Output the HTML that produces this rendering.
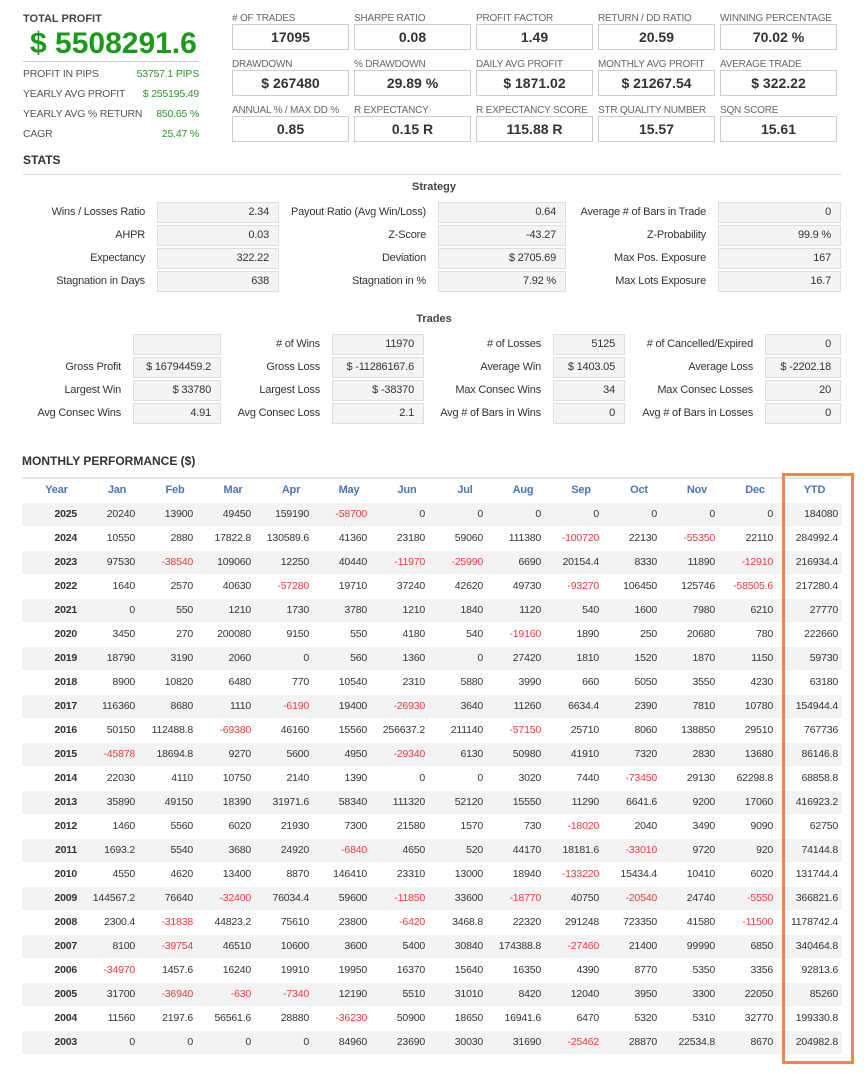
<!DOCTYPE html>
<html><head><meta charset="utf-8"><style>
*{margin:0;padding:0;box-sizing:border-box}
body{width:868px;height:1074px;background:#fff;font-family:"Liberation Sans",Arial,sans-serif;position:relative;overflow:hidden;color:#333}
.a{position:absolute;white-space:nowrap}
.lbl{font-size:10.5px;color:#555;letter-spacing:-0.2px}
.gv{font-size:10.5px;color:#2a9a2a;text-align:right;letter-spacing:-0.2px}
.kl{position:absolute;font-size:10px;color:#666;white-space:nowrap;letter-spacing:-0.2px}
.kb{position:absolute;width:117px;height:26px;border:1px solid #ccc;font-size:14px;font-weight:bold;color:#333;text-align:center;line-height:24px}
.sl{position:absolute;font-size:11px;color:#333;text-align:right;white-space:nowrap;line-height:20px;letter-spacing:-0.2px}
.sb{position:absolute;height:21px;background:#f4f4f4;border:1px solid #ddd;font-size:11px;color:#333;text-align:right;padding-right:9px;line-height:19px;white-space:nowrap;letter-spacing:-0.2px}
table{position:absolute;left:22px;top:477px;border-collapse:collapse;font-size:10.5px;table-layout:fixed;width:820px;letter-spacing:-0.2px}
td,th{height:24px;text-align:right;padding-right:8px;white-space:nowrap;border-bottom:1px solid #fff}
th{color:#4a76b0;font-weight:bold;text-align:center;padding:0 0 0 6px;border-top:2px solid #e4e4e4;font-size:11px}
tr:nth-child(even) td{background:#f3f3f3}
td:first-child{font-weight:bold}
td:last-child{padding-right:4px}
.n{color:#f03a3a}
</style></head><body>
<div class="a" style="left:23px;top:13px;font-size:11px;font-weight:bold;color:#444">TOTAL PROFIT</div>
<div class="a" style="left:30px;top:27px;font-size:30px;font-weight:bold;color:#1a9a1a">$ 5508291.6</div>
<div class="a" style="left:23px;top:61px;width:176px;border-top:1px solid #ccc"></div>
<div class="a lbl" style="left:23px;top:68px">PROFIT IN PIPS</div><div class="a gv" style="right:669px;top:68px">53757.1 PIPS</div>
<div class="a lbl" style="left:23px;top:88px">YEARLY AVG PROFIT</div><div class="a gv" style="right:669px;top:88px">$ 255195.49</div>
<div class="a lbl" style="left:23px;top:108px">YEARLY AVG % RETURN</div><div class="a gv" style="right:669px;top:108px">850.65 %</div>
<div class="a lbl" style="left:23px;top:128px">CAGR</div><div class="a gv" style="right:669px;top:128px">25.47 %</div>

<div class="kl" style="left:232px;top:13px"># OF TRADES</div><div class="kb" style="left:232px;top:24px">17095</div>
<div class="kl" style="left:354px;top:13px">SHARPE RATIO</div><div class="kb" style="left:354px;top:24px">0.08</div>
<div class="kl" style="left:476px;top:13px">PROFIT FACTOR</div><div class="kb" style="left:476px;top:24px">1.49</div>
<div class="kl" style="left:598px;top:13px">RETURN / DD RATIO</div><div class="kb" style="left:598px;top:24px">20.59</div>
<div class="kl" style="left:720px;top:13px">WINNING PERCENTAGE</div><div class="kb" style="left:720px;top:24px">70.02 %</div>
<div class="kl" style="left:232px;top:59px">DRAWDOWN</div><div class="kb" style="left:232px;top:70px">$ 267480</div>
<div class="kl" style="left:354px;top:59px">% DRAWDOWN</div><div class="kb" style="left:354px;top:70px">29.89 %</div>
<div class="kl" style="left:476px;top:59px">DAILY AVG PROFIT</div><div class="kb" style="left:476px;top:70px">$ 1871.02</div>
<div class="kl" style="left:598px;top:59px">MONTHLY AVG PROFIT</div><div class="kb" style="left:598px;top:70px">$ 21267.54</div>
<div class="kl" style="left:720px;top:59px">AVERAGE TRADE</div><div class="kb" style="left:720px;top:70px">$ 322.22</div>
<div class="kl" style="left:232px;top:105px">ANNUAL % / MAX DD %</div><div class="kb" style="left:232px;top:116px">0.85</div>
<div class="kl" style="left:354px;top:105px">R EXPECTANCY</div><div class="kb" style="left:354px;top:116px">0.15 R</div>
<div class="kl" style="left:476px;top:105px">R EXPECTANCY SCORE</div><div class="kb" style="left:476px;top:116px">115.88 R</div>
<div class="kl" style="left:598px;top:105px">STR QUALITY NUMBER</div><div class="kb" style="left:598px;top:116px">15.57</div>
<div class="kl" style="left:720px;top:105px">SQN SCORE</div><div class="kb" style="left:720px;top:116px">15.61</div>

<div class="a" style="left:23px;top:153px;font-size:12px;font-weight:bold;color:#333">STATS</div>
<div class="a" style="left:23px;top:174px;width:819px;border-top:1px solid #ddd"></div>
<div class="a" style="left:0;width:868px;text-align:center;top:181px;font-size:11px;font-weight:bold;color:#444">Strategy</div>

<div class="sl" style="right:723px;top:202px">Wins / Losses Ratio</div><div class="sb" style="left:157px;width:122px;top:202px">2.34</div>
<div class="sl" style="right:442px;top:202px">Payout Ratio (Avg Win/Loss)</div><div class="sb" style="left:438px;width:128px;top:202px">0.64</div>
<div class="sl" style="right:162px;top:202px">Average # of Bars in Trade</div><div class="sb" style="left:718px;width:123px;top:202px">0</div>
<div class="sl" style="right:723px;top:225px">AHPR</div><div class="sb" style="left:157px;width:122px;top:225px">0.03</div>
<div class="sl" style="right:442px;top:225px">Z-Score</div><div class="sb" style="left:438px;width:128px;top:225px">-43.27</div>
<div class="sl" style="right:162px;top:225px">Z-Probability</div><div class="sb" style="left:718px;width:123px;top:225px">99.9 %</div>
<div class="sl" style="right:723px;top:248px">Expectancy</div><div class="sb" style="left:157px;width:122px;top:248px">322.22</div>
<div class="sl" style="right:442px;top:248px">Deviation</div><div class="sb" style="left:438px;width:128px;top:248px">$ 2705.69</div>
<div class="sl" style="right:162px;top:248px">Max Pos. Exposure</div><div class="sb" style="left:718px;width:123px;top:248px">167</div>
<div class="sl" style="right:723px;top:271px">Stagnation in Days</div><div class="sb" style="left:157px;width:122px;top:271px">638</div>
<div class="sl" style="right:442px;top:271px">Stagnation in %</div><div class="sb" style="left:438px;width:128px;top:271px">7.92 %</div>
<div class="sl" style="right:162px;top:271px">Max Lots Exposure</div><div class="sb" style="left:718px;width:123px;top:271px">16.7</div>

<div class="a" style="left:0;width:868px;text-align:center;top:313px;font-size:11px;font-weight:bold;color:#444">Trades</div>
<div class="sb" style="left:133px;width:88px;top:334px"></div>
<div class="sl" style="right:548px;top:334px"># of Wins</div><div class="sb" style="left:332px;width:92px;top:334px">11970</div>
<div class="sl" style="right:327px;top:334px"># of Losses</div><div class="sb" style="left:553px;width:72px;top:334px">5125</div>
<div class="sl" style="right:115px;top:334px"># of Cancelled/Expired</div><div class="sb" style="left:765px;width:76px;top:334px">0</div>
<div class="sl" style="right:747px;top:357px">Gross Profit</div><div class="sb" style="left:133px;width:88px;top:357px">$ 16794459.2</div>
<div class="sl" style="right:548px;top:357px">Gross Loss</div><div class="sb" style="left:332px;width:92px;top:357px">$ -11286167.6</div>
<div class="sl" style="right:327px;top:357px">Average Win</div><div class="sb" style="left:553px;width:72px;top:357px">$ 1403.05</div>
<div class="sl" style="right:115px;top:357px">Average Loss</div><div class="sb" style="left:765px;width:76px;top:357px">$ -2202.18</div>
<div class="sl" style="right:747px;top:380px">Largest Win</div><div class="sb" style="left:133px;width:88px;top:380px">$ 33780</div>
<div class="sl" style="right:548px;top:380px">Largest Loss</div><div class="sb" style="left:332px;width:92px;top:380px">$ -38370</div>
<div class="sl" style="right:327px;top:380px">Max Consec Wins</div><div class="sb" style="left:553px;width:72px;top:380px">34</div>
<div class="sl" style="right:115px;top:380px">Max Consec Losses</div><div class="sb" style="left:765px;width:76px;top:380px">20</div>
<div class="sl" style="right:747px;top:403px">Avg Consec Wins</div><div class="sb" style="left:133px;width:88px;top:403px">4.91</div>
<div class="sl" style="right:548px;top:403px">Avg Consec Loss</div><div class="sb" style="left:332px;width:92px;top:403px">2.1</div>
<div class="sl" style="right:327px;top:403px">Avg # of Bars in Wins</div><div class="sb" style="left:553px;width:72px;top:403px">0</div>
<div class="sl" style="right:115px;top:403px">Avg # of Bars in Losses</div><div class="sb" style="left:765px;width:76px;top:403px">0</div>

<div class="a" style="left:22px;top:454px;font-size:12px;font-weight:bold;color:#333">MONTHLY PERFORMANCE ($)</div>

<table>
<colgroup><col style="width:63px"><col style="width:58px"><col style="width:58px"><col style="width:58px"><col style="width:58px"><col style="width:58px"><col style="width:58px"><col style="width:58px"><col style="width:58px"><col style="width:58px"><col style="width:58px"><col style="width:58px"><col style="width:58px"><col style="width:61px"></colgroup>
<tr><th>Year</th><th>Jan</th><th>Feb</th><th>Mar</th><th>Apr</th><th>May</th><th>Jun</th><th>Jul</th><th>Aug</th><th>Sep</th><th>Oct</th><th>Nov</th><th>Dec</th><th>YTD</th></tr>
<tr><td>2025</td><td>20240</td><td>13900</td><td>49450</td><td>159190</td><td class="n">-58700</td><td>0</td><td>0</td><td>0</td><td>0</td><td>0</td><td>0</td><td>0</td><td>184080</td></tr>
<tr><td>2024</td><td>10550</td><td>2880</td><td>17822.8</td><td>130589.6</td><td>41360</td><td>23180</td><td>59060</td><td>111380</td><td class="n">-100720</td><td>22130</td><td class="n">-55350</td><td>22110</td><td>284992.4</td></tr>
<tr><td>2023</td><td>97530</td><td class="n">-38540</td><td>109060</td><td>12250</td><td>40440</td><td class="n">-11970</td><td class="n">-25990</td><td>6690</td><td>20154.4</td><td>8330</td><td>11890</td><td class="n">-12910</td><td>216934.4</td></tr>
<tr><td>2022</td><td>1640</td><td>2570</td><td>40630</td><td class="n">-57280</td><td>19710</td><td>37240</td><td>42620</td><td>49730</td><td class="n">-93270</td><td>106450</td><td>125746</td><td class="n">-58505.6</td><td>217280.4</td></tr>
<tr><td>2021</td><td>0</td><td>550</td><td>1210</td><td>1730</td><td>3780</td><td>1210</td><td>1840</td><td>1120</td><td>540</td><td>1600</td><td>7980</td><td>6210</td><td>27770</td></tr>
<tr><td>2020</td><td>3450</td><td>270</td><td>200080</td><td>9150</td><td>550</td><td>4180</td><td>540</td><td class="n">-19160</td><td>1890</td><td>250</td><td>20680</td><td>780</td><td>222660</td></tr>
<tr><td>2019</td><td>18790</td><td>3190</td><td>2060</td><td>0</td><td>560</td><td>1360</td><td>0</td><td>27420</td><td>1810</td><td>1520</td><td>1870</td><td>1150</td><td>59730</td></tr>
<tr><td>2018</td><td>8900</td><td>10820</td><td>6480</td><td>770</td><td>10540</td><td>2310</td><td>5880</td><td>3990</td><td>660</td><td>5050</td><td>3550</td><td>4230</td><td>63180</td></tr>
<tr><td>2017</td><td>116360</td><td>8680</td><td>1110</td><td class="n">-6190</td><td>19400</td><td class="n">-26930</td><td>3640</td><td>11260</td><td>6634.4</td><td>2390</td><td>7810</td><td>10780</td><td>154944.4</td></tr>
<tr><td>2016</td><td>50150</td><td>112488.8</td><td class="n">-69380</td><td>46160</td><td>15560</td><td>256637.2</td><td>211140</td><td class="n">-57150</td><td>25710</td><td>8060</td><td>138850</td><td>29510</td><td>767736</td></tr>
<tr><td>2015</td><td class="n">-45878</td><td>18694.8</td><td>9270</td><td>5600</td><td>4950</td><td class="n">-29340</td><td>6130</td><td>50980</td><td>41910</td><td>7320</td><td>2830</td><td>13680</td><td>86146.8</td></tr>
<tr><td>2014</td><td>22030</td><td>4110</td><td>10750</td><td>2140</td><td>1390</td><td>0</td><td>0</td><td>3020</td><td>7440</td><td class="n">-73450</td><td>29130</td><td>62298.8</td><td>68858.8</td></tr>
<tr><td>2013</td><td>35890</td><td>49150</td><td>18390</td><td>31971.6</td><td>58340</td><td>111320</td><td>52120</td><td>15550</td><td>11290</td><td>6641.6</td><td>9200</td><td>17060</td><td>416923.2</td></tr>
<tr><td>2012</td><td>1460</td><td>5560</td><td>6020</td><td>21930</td><td>7300</td><td>21580</td><td>1570</td><td>730</td><td class="n">-18020</td><td>2040</td><td>3490</td><td>9090</td><td>62750</td></tr>
<tr><td>2011</td><td>1693.2</td><td>5540</td><td>3680</td><td>24920</td><td class="n">-6840</td><td>4650</td><td>520</td><td>44170</td><td>18181.6</td><td class="n">-33010</td><td>9720</td><td>920</td><td>74144.8</td></tr>
<tr><td>2010</td><td>4550</td><td>4620</td><td>13400</td><td>8870</td><td>146410</td><td>23310</td><td>13000</td><td>18940</td><td class="n">-133220</td><td>15434.4</td><td>10410</td><td>6020</td><td>131744.4</td></tr>
<tr><td>2009</td><td>144567.2</td><td>76640</td><td class="n">-32400</td><td>76034.4</td><td>59600</td><td class="n">-11850</td><td>33600</td><td class="n">-18770</td><td>40750</td><td class="n">-20540</td><td>24740</td><td class="n">-5550</td><td>366821.6</td></tr>
<tr><td>2008</td><td>2300.4</td><td class="n">-31838</td><td>44823.2</td><td>75610</td><td>23800</td><td class="n">-6420</td><td>3468.8</td><td>22320</td><td>291248</td><td>723350</td><td>41580</td><td class="n">-11500</td><td>1178742.4</td></tr>
<tr><td>2007</td><td>8100</td><td class="n">-39754</td><td>46510</td><td>10600</td><td>3600</td><td>5400</td><td>30840</td><td>174388.8</td><td class="n">-27460</td><td>21400</td><td>99990</td><td>6850</td><td>340464.8</td></tr>
<tr><td>2006</td><td class="n">-34970</td><td>1457.6</td><td>16240</td><td>19910</td><td>19950</td><td>16370</td><td>15640</td><td>16350</td><td>4390</td><td>8770</td><td>5350</td><td>3356</td><td>92813.6</td></tr>
<tr><td>2005</td><td>31700</td><td class="n">-36940</td><td class="n">-630</td><td class="n">-7340</td><td>12190</td><td>5510</td><td>31010</td><td>8420</td><td>12040</td><td>3950</td><td>3300</td><td>22050</td><td>85260</td></tr>
<tr><td>2004</td><td>11560</td><td>2197.6</td><td>56561.6</td><td>28880</td><td class="n">-36230</td><td>50900</td><td>18650</td><td>16941.6</td><td>6470</td><td>5320</td><td>5310</td><td>32770</td><td>199330.8</td></tr>
<tr><td>2003</td><td>0</td><td>0</td><td>0</td><td>0</td><td>84960</td><td>23690</td><td>30030</td><td>31690</td><td class="n">-25462</td><td>28870</td><td>22534.8</td><td>8670</td><td>204982.8</td></tr>
</table>
<div class="a" style="left:782px;top:473px;width:72px;height:591px;border:3px solid #f5844a"></div>
</body></html>
